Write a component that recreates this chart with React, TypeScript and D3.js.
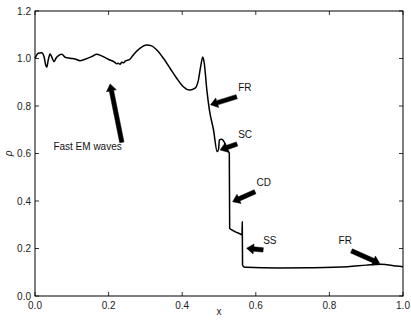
import React, { useRef, useEffect } from "react";
import * as d3 from "d3";

// density profile
const xs = [
  0.0, 0.009, 0.018, 0.0245, 0.029, 0.032, 0.036, 0.041, 0.045, 0.052, 0.057,
  0.063, 0.073, 0.082, 0.095, 0.109, 0.122, 0.136, 0.154, 0.168, 0.181, 0.199,
  0.217, 0.222, 0.226, 0.231, 0.236, 0.241, 0.245, 0.258, 0.267, 0.285, 0.304,
  0.317, 0.331, 0.349, 0.367, 0.385, 0.403, 0.421, 0.435, 0.444, 0.45, 0.456,
  0.46, 0.467, 0.474, 0.485, 0.495, 0.499, 0.501, 0.507, 0.516, 0.523, 0.528,
  0.529, 0.535, 0.545, 0.558, 0.5625, 0.5632, 0.564, 0.568, 0.575, 0.66, 0.75,
  0.85, 0.9, 0.94, 0.956, 0.983, 1.0,
];
const rho = [
  1.001, 1.022, 1.024, 1.008, 0.973, 0.963, 0.994, 1.019, 1.008, 0.987, 1.001,
  1.011, 1.018, 1.005, 1.001, 0.998, 0.991, 0.997, 1.008, 1.018, 1.011, 0.997,
  0.984, 0.978, 0.98, 0.976, 0.984, 0.982, 0.989, 0.997, 1.015, 1.043, 1.057,
  1.053, 1.036, 1.001, 0.959, 0.917, 0.881, 0.867, 0.875, 0.909, 0.965, 1.006,
  0.98, 0.867, 0.783, 0.7, 0.608, 0.62, 0.657, 0.66, 0.643, 0.615, 0.601,
  0.285, 0.278, 0.27, 0.261, 0.257, 0.313, 0.131, 0.122, 0.121, 0.118, 0.119,
  0.123, 0.13, 0.134, 0.132, 0.126, 0.123,
];

const xTicks = [0, 0.2, 0.4, 0.6, 0.8, 1.0];
const yTicks = [0, 0.2, 0.4, 0.6, 0.8, 1.0, 1.2];

// annotations: label, text anchor (data), arrow tail and tip (data)
const labels = ["Fast EM waves", "FR", "SC", "CD", "SS", "FR"];
const textPos = [
  [0.05, 0.613], [0.552, 0.865], [0.552, 0.665], [0.602, 0.465], [0.62, 0.218], [0.825, 0.218],
];
const tails = [
  [0.236, 0.647], [0.548, 0.839], [0.549, 0.64], [0.598, 0.439], [0.62, 0.194], [0.86, 0.19],
];
const tips = [
  [0.204, 0.893], [0.477, 0.805], [0.503, 0.615], [0.537, 0.397], [0.575, 0.201], [0.937, 0.137],
];

const W = 411;
const H = 320;
const M = { left: 35, right: 8, top: 11, bottom: 24 };
const FONT = '"Liberation Sans", Arial, sans-serif';

const App: React.FC = () => {
  const svgRef = useRef<SVGSVGElement | null>(null);

  useEffect(() => {
    if (!svgRef.current) return;
    const svg = d3.select(svgRef.current);
    svg.selectAll("*").remove();

    const x = d3.scaleLinear().domain([0, 1]).range([M.left, W - M.right]);
    const y = d3.scaleLinear().domain([0, 1.2]).range([H - M.bottom, M.top]);

    svg.append("rect").attr("width", W).attr("height", H).attr("fill", "#fff");

    const g = svg.append("g");
    const tl = 4;

    // ticks on all four sides, pointing inward
    xTicks.forEach((t) => {
      g.append("line").attr("x1", x(t)).attr("x2", x(t))
        .attr("y1", y(0)).attr("y2", y(0) - tl).attr("stroke", "#000").attr("stroke-width", 0.8);
      g.append("line").attr("x1", x(t)).attr("x2", x(t))
        .attr("y1", y(1.2)).attr("y2", y(1.2) + tl).attr("stroke", "#000").attr("stroke-width", 0.8);
      g.append("text").attr("x", x(t)).attr("y", y(0) + 13)
        .attr("text-anchor", "middle").attr("font-family", FONT).attr("font-size", 10)
        .attr("fill", "#222").text(t.toFixed(1));
    });
    yTicks.forEach((t) => {
      g.append("line").attr("x1", x(0)).attr("x2", x(0) + tl)
        .attr("y1", y(t)).attr("y2", y(t)).attr("stroke", "#000").attr("stroke-width", 0.8);
      g.append("line").attr("x1", x(1)).attr("x2", x(1) - tl)
        .attr("y1", y(t)).attr("y2", y(t)).attr("stroke", "#000").attr("stroke-width", 0.8);
      g.append("text").attr("x", x(0) - 4).attr("y", y(t) + 3.5)
        .attr("text-anchor", "end").attr("font-family", FONT).attr("font-size", 10)
        .attr("fill", "#222").text(t.toFixed(1));
    });

    // curve
    const pts: [number, number][] = xs.map((v, i) => [v, rho[i]]);
    const line = d3.line<[number, number]>()
      .x((d) => x(d[0])).y((d) => y(d[1]))
      .curve(d3.curveMonotoneX);
    g.append("path").attr("d", line(pts) as string)
      .attr("fill", "none").attr("stroke", "#000").attr("stroke-width", 1.5)
      .attr("stroke-linejoin", "round");

    // frame
    g.append("rect").attr("x", x(0)).attr("y", y(1.2))
      .attr("width", x(1) - x(0)).attr("height", y(0) - y(1.2))
      .attr("fill", "none").attr("stroke", "#000").attr("stroke-width", 1);

    // arrows
    labels.forEach((lab, i) => {
      const x0 = x(tails[i][0]), y0 = y(tails[i][1]);
      const x1 = x(tips[i][0]), y1 = y(tips[i][1]);
      const dx = x1 - x0, dy = y1 - y0;
      const len = Math.hypot(dx, dy);
      const ux = dx / len, uy = dy / len;
      const px = -uy, py = ux;
      const sw = 2.2, hw = 5, hl = 7;
      const bx = x1 - ux * hl, by = y1 - uy * hl;
      const poly = [
        [x0 + px * sw, y0 + py * sw],
        [bx + px * sw, by + py * sw],
        [bx + px * hw, by + py * hw],
        [x1, y1],
        [bx - px * hw, by - py * hw],
        [bx - px * sw, by - py * sw],
        [x0 - px * sw, y0 - py * sw],
      ];
      g.append("polygon").attr("points", poly.map((p) => p.join(",")).join(" "))
        .attr("fill", "#000").attr("stroke", "#000").attr("stroke-width", 0.5);
      g.append("text").attr("x", x(textPos[i][0])).attr("y", y(textPos[i][1]))
        .attr("font-family", FONT).attr("font-size", 10).attr("fill", "#111").text(lab);
    });

    // axis labels
    g.append("text").attr("x", (x(0) + x(1)) / 2).attr("y", H - 5)
      .attr("text-anchor", "middle").attr("font-family", FONT).attr("font-size", 10)
      .attr("fill", "#222").text("x");
    g.append("text")
      .attr("transform", `translate(12,${(y(0) + y(1.2)) / 2}) rotate(-90)`)
      .attr("text-anchor", "middle").attr("font-family", FONT).attr("font-size", 10)
      .attr("font-style", "italic").attr("fill", "#222").text("ρ");
  }, []);

  return (
    <div style={{ position: "absolute", left: 0, top: 0 }}>
      <svg ref={svgRef} width={W} height={H} style={{ display: "block" }} />
    </div>
  );
};

export default App;
